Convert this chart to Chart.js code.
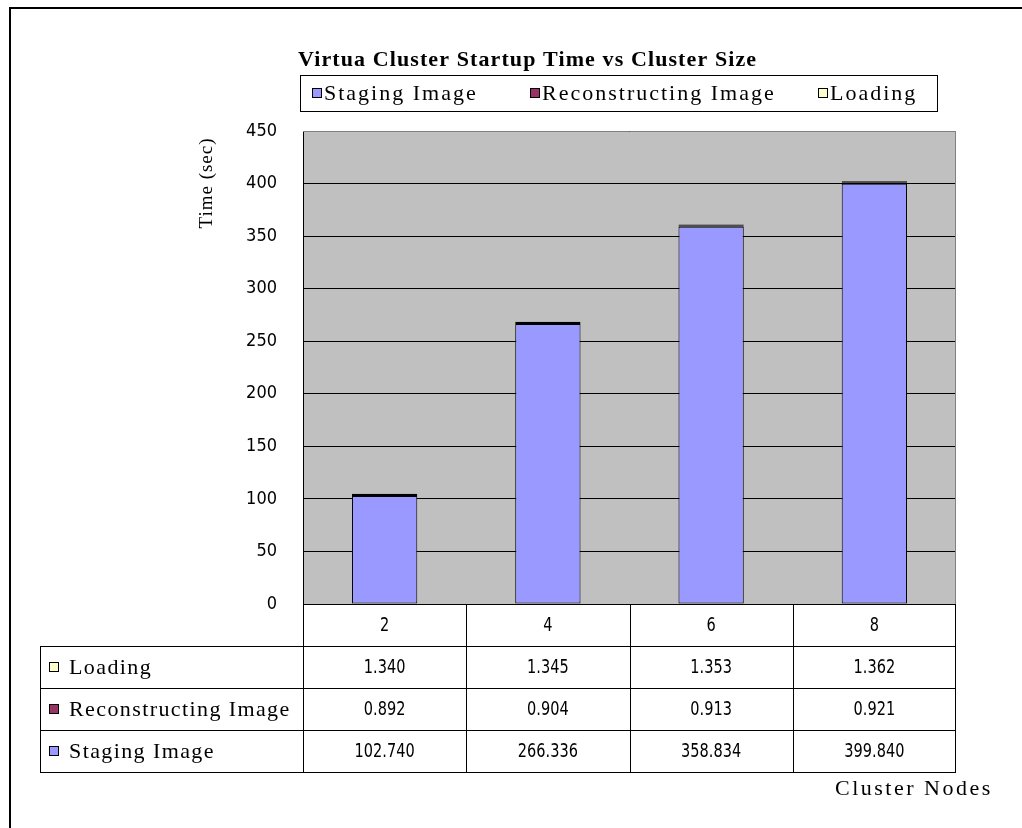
<!DOCTYPE html>
<html>
<head>
<meta charset="utf-8">
<script src="https://cdn.jsdelivr.net/npm/chart.js@4.4.0/dist/chart.umd.min.js"></script>
<style>
  html, body { margin: 0; padding: 0; background: #fff; }
</style>
</head>
<body>
<canvas id="chart" width="1022" height="828"></canvas>
<script>
// data
const clusterNodes = ['2', '4', '6', '8'];
const stagingImage = [102.740, 266.336, 358.834, 399.840];
const reconstructingImage = [0.892, 0.904, 0.913, 0.921];
const loadingTime = [1.340, 1.345, 1.353, 1.362];
const yTickValues = [0, 50, 100, 150, 200, 250, 300, 350, 400, 450];

const seriesNames = ['Staging Image', 'Reconstructing Image', 'Loading'];
const seriesColors = ['#9999FF', '#993366', '#FFFFCC'];

const SERIF = '"Liberation Serif", "Times New Roman", serif';
const NARROW = '"Liberation Sans Narrow", "DejaVu Sans Condensed", "Liberation Sans", Arial, sans-serif';

function swatch(ctx, x, y, color) {
    ctx.fillStyle = color;
    ctx.fillRect(x, y - 5, 10, 10);
    ctx.strokeStyle = '#000';
    ctx.lineWidth = 1;
    ctx.strokeRect(x + 0.5, y - 4.5, 9, 9);
}

function hline(ctx, x1, x2, y) {
    ctx.beginPath();
    ctx.moveTo(x1, y + 0.5);
    ctx.lineTo(x2, y + 0.5);
    ctx.stroke();
}

function vline(ctx, x, y1, y2) {
    ctx.beginPath();
    ctx.moveTo(x + 0.5, y1);
    ctx.lineTo(x + 0.5, y2);
    ctx.stroke();
}

// narrow number text, squeezed a bit to look like the old bitmap font
function numText(ctx, str, x, y) {
    ctx.save();
    ctx.translate(x, y);
    ctx.scale(0.85, 1);
    ctx.textAlign = 'center';
    ctx.font = '19px ' + NARROW;
    ctx.letterSpacing = '0px';
    ctx.fillText(str, 0, 0);
    ctx.restore();
}

// background, plot area, title, legend box and the data table
const excelDecor = {
    id: 'excelDecor',
    beforeDraw(chart) {
        const { ctx, chartArea: a } = chart;
        ctx.save();
        ctx.fillStyle = '#fff';
        ctx.fillRect(0, 0, chart.width, chart.height);
        ctx.fillStyle = '#C0C0C0';
        ctx.fillRect(a.left, a.top, a.right - a.left, a.bottom - a.top);
        ctx.restore();
    },
    afterDraw(chart) {
        const { ctx, chartArea: a } = chart;
        const xs = chart.scales.x;
        const colW = (a.right - a.left) / clusterNodes.length;
        ctx.save();

        // outer frame (only left / top visible)
        ctx.fillStyle = '#000';
        ctx.fillRect(9, 7, 2, chart.height - 7);
        ctx.fillRect(9, 7, chart.width - 9, 2);

        // plot border top/right
        ctx.strokeStyle = '#808080';
        ctx.lineWidth = 1;
        hline(ctx, a.left, a.right, a.top);
        vline(ctx, a.right - 1, a.top, a.bottom);

        // title
        ctx.fillStyle = '#000';
        ctx.font = 'bold 22px ' + SERIF;
        ctx.letterSpacing = '1.1px';
        ctx.textAlign = 'left';
        ctx.textBaseline = 'middle';
        ctx.fillText('Virtua Cluster Startup Time vs Cluster Size', 298, 60);

        // legend box
        ctx.strokeStyle = '#000';
        ctx.strokeRect(300.5, 75.5, 637, 36);
        ctx.font = '22px ' + SERIF;
        ctx.letterSpacing = '2px';
        const legendX = [312, 530, 818];
        seriesNames.forEach((name, i) => {
            swatch(ctx, legendX[i], 93, seriesColors[i]);
            ctx.fillStyle = '#000';
            ctx.fillText(name, legendX[i] + 12, 94);
        });

        // y axis title
        ctx.save();
        ctx.translate(207, 183);
        ctx.rotate(-Math.PI / 2);
        ctx.textAlign = 'center';
        ctx.font = '19px ' + SERIF;
        ctx.letterSpacing = '1px';
        ctx.fillText('Time (sec)', 0, 0);
        ctx.restore();

        // data table
        const rowH = 42;
        const top = a.bottom;
        const tableLeft = 40;
        const rows = [
            { name: 'Loading', color: seriesColors[2], vals: loadingTime },
            { name: 'Reconstructing Image', color: seriesColors[1], vals: reconstructingImage },
            { name: 'Staging Image', color: seriesColors[0], vals: stagingImage }
        ];
        const bottom = top + rowH * (rows.length + 1);
        ctx.strokeStyle = '#000';
        ctx.lineWidth = 1;
        hline(ctx, a.left, a.right, top);
        for (let r = 1; r <= rows.length + 1; r++) {
            hline(ctx, tableLeft, a.right, top + r * rowH);
        }
        vline(ctx, tableLeft, top + rowH, bottom + 1);
        for (let c = 0; c <= clusterNodes.length; c++) {
            vline(ctx, Math.round(a.left + c * colW) - (c === clusterNodes.length ? 1 : 0), top, bottom + 1);
        }

        ctx.fillStyle = '#000';
        clusterNodes.forEach((n, i) => {
            numText(ctx, n, xs.getPixelForValue(i), top + rowH / 2 + 1);
        });
        rows.forEach((row, r) => {
            const cy = top + (r + 1) * rowH + rowH / 2;
            swatch(ctx, 49, cy, row.color);
            ctx.fillStyle = '#000';
            ctx.textAlign = 'left';
            ctx.font = '22px ' + SERIF;
            ctx.letterSpacing = '1.4px';
            ctx.fillText(row.name, 69, cy + 1);
            row.vals.forEach((v, i) => {
                numText(ctx, v.toFixed(3), xs.getPixelForValue(i), cy + 1);
            });
        });

        // x axis title
        ctx.textAlign = 'left';
        ctx.font = '22px ' + SERIF;
        ctx.letterSpacing = '2.5px';
        ctx.fillText('Cluster Nodes', 835, 789);

        ctx.restore();
    }
};

new Chart(document.getElementById('chart'), {
    type: 'bar',
    data: {
        labels: clusterNodes,
        datasets: [
            { label: seriesNames[0], data: stagingImage, backgroundColor: seriesColors[0] },
            { label: seriesNames[1], data: reconstructingImage, backgroundColor: seriesColors[1] },
            { label: seriesNames[2], data: loadingTime, backgroundColor: seriesColors[2] }
        ].map(d => Object.assign(d, {
            borderColor: '#000',
            borderWidth: 1,
            borderSkipped: false,
            barPercentage: 0.4,
            categoryPercentage: 1
        }))
    },
    options: {
        responsive: false,
        animation: false,
        devicePixelRatio: 1,
        layout: { padding: { left: 0, top: 131, right: 66, bottom: 224 } },
        plugins: {
            legend: { display: false },
            title: { display: false },
            tooltip: { enabled: false }
        },
        scales: {
            x: { display: false, stacked: true },
            y: {
                stacked: true,
                min: 0,
                max: 450,
                afterFit(scale) { scale.width = 303; },
                afterBuildTicks(scale) { scale.ticks = yTickValues.map(v => ({ value: v })); },
                grid: { color: '#000', lineWidth: 1, drawTicks: false },
                border: { color: '#000', width: 1 },
                ticks: {
                    padding: 26,
                    color: '#000',
                    font: { family: NARROW, size: 18 }
                }
            }
        }
    },
    plugins: [excelDecor]
});
</script>
</body>
</html>
